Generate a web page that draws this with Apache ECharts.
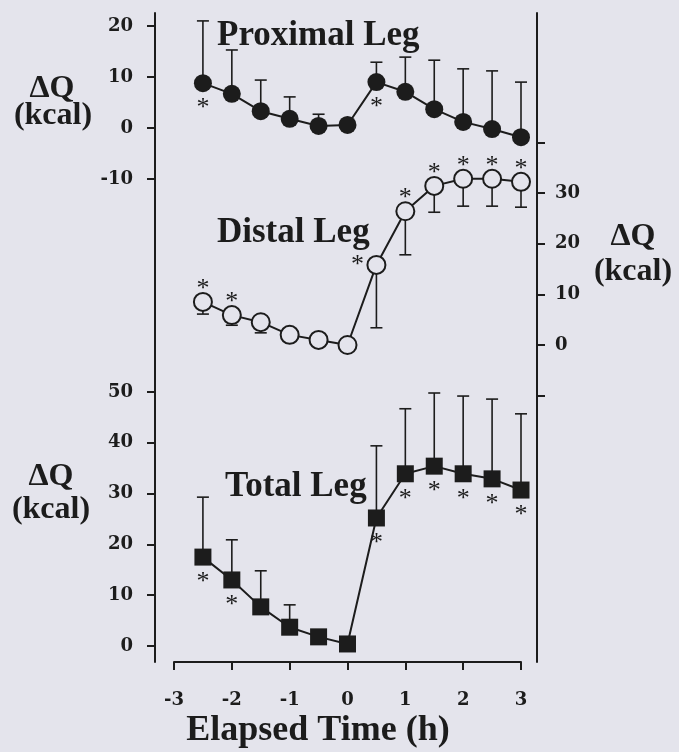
<!DOCTYPE html>
<html>
<head>
<meta charset="utf-8">
<script src="https://cdn.jsdelivr.net/npm/echarts@6/dist/echarts.min.js"></script>
<style>
  html, body { margin: 0; padding: 0; background: #e4e4ec; }
  .chart { width: 679px; height: 752px; }
</style>
</head>
<body>
<div class="chart"></div>
<script>
// time points (h)
var times = [-2.5, -2, -1.5, -1, -0.5, 0, 0.5, 1, 1.5, 2, 2.5, 3];
var xTicks = [-3, -2, -1, 0, 1, 2, 3];

// proximal leg, mean and SD (kcal)
var proxMean = [8.8, 6.7, 3.3, 1.8, 0.4, 0.6, 9.0, 7.1, 3.7, 1.2, -0.2, -1.8];
var proxSD = [12.2, 8.6, 6.1, 4.3, 2.3, 1.0, 3.9, 6.8, 9.6, 10.4, 11.4, 10.8];
var proxSig = [1, 0, 0, 0, 0, 0, 1, 0, 0, 0, 0, 0];

// distal leg
var distMean = [8.5, 5.9, 4.5, 2.0, 1.0, 0.0, 15.8, 26.4, 31.4, 32.8, 32.8, 32.2];
var distSD = [2.4, 2.0, 2.1, 0.8, 0.5, 0.3, 12.4, 8.6, 5.2, 5.4, 5.4, 5.0];
var distSig = [1, 1, 0, 0, 0, 0, 1, 1, 1, 1, 1, 1];

// total leg
var totMean = [17.5, 13.0, 7.7, 3.7, 1.8, 0.4, 25.2, 33.9, 35.4, 33.9, 32.9, 30.7];
var totSD = [11.8, 7.9, 7.1, 4.4, 1.0, 0.5, 14.2, 12.8, 14.4, 15.3, 15.7, 15.0];
var totSig = [1, 1, 0, 0, 0, 0, 1, 1, 1, 1, 1, 1];

// tick values on the axes
var proxTicks = [-10, 0, 10, 20];
var distTicks = [-10, 0, 10, 20, 30, 40];
var distLabels = [0, 10, 20, 30];
var totTicks = [0, 10, 20, 30, 40, 50];

(function () {
  var myChart = echarts.init(document.querySelector(".chart"));
  var ink = "#1c1c1c";
  var bg = "#e4e4ec";
  var serif = "Liberation Serif";
  var tickFont = "DejaVu Serif";

  function pairs(mean, sd) {
    return times.map(function (t, i) { return [t, mean[i], sd[i]]; });
  }
  function sigData(mean, sig) {
    var out = [];
    times.forEach(function (t, i) { if (sig[i]) out.push([t, mean[i]]); });
    return out;
  }

  // error bar: dir 1 = upwards, -1 = downwards
  function errorBar(dir) {
    return function (params, api) {
      var p0 = api.coord([api.value(0), api.value(1)]);
      var p1 = api.coord([api.value(0), api.value(1) + dir * api.value(2)]);
      var st = { stroke: ink, lineWidth: 1.6 };
      return {
        type: "group",
        children: [
          { type: "line", shape: { x1: p0[0], y1: p0[1], x2: p1[0], y2: p1[1] }, style: st },
          { type: "line", shape: { x1: p1[0] - 6, y1: p1[1], x2: p1[0] + 6, y2: p1[1] }, style: st }
        ]
      };
    };
  }

  // asterisk next to a point
  function star(where) {
    return function (params, api) {
      var x = api.value(0);
      var p = api.coord([x, api.value(1)]);
      var dx = 0, dy = 25;
      if (where === "top") { dy = -13; if (x === 0.5) { dx = -19; dy = 0; } }
      return {
        type: "text",
        style: {
          text: "*", x: p[0] + dx, y: p[1] + dy,
          fill: ink, font: "26px " + serif,
          align: "center", verticalAlign: "middle"
        }
      };
    };
  }

  function yAxisBase(pos, offset, margin) {
    return {
      type: "value",
      position: pos,
      offset: offset,
      splitLine: { show: false },
      axisLine: { show: true, onZero: false, lineStyle: { color: ink, width: 2 } },
      axisTick: { show: true, length: 8, lineStyle: { color: ink, width: 2 } },
      axisLabel: {
        margin: margin, color: ink,
        fontFamily: tickFont, fontWeight: "bold", fontSize: 18
      }
    };
  }

  var yProx = yAxisBase("left", 19, 22);
  yProx.gridIndex = 0; yProx.min = -104.7; yProx.max = 22.55;
  yProx.axisTick.customValues = proxTicks;
  yProx.axisLabel.customValues = proxTicks;

  var yDist = yAxisBase("right", 16, 18);
  yDist.gridIndex = 1; yDist.min = -62.56; yDist.max = 65.52;
  yDist.axisTick.customValues = distTicks;
  yDist.axisLabel.customValues = distLabels;

  var yTot = yAxisBase("left", 19, 22);
  yTot.gridIndex = 2; yTot.min = -3.15; yTot.max = 124.6;
  yTot.axisLine.show = false;
  yTot.axisTick.customValues = totTicks;
  yTot.axisLabel.customValues = totTicks;

  function hiddenX(idx) {
    return { type: "value", gridIndex: idx, min: -3, max: 3, show: false, axisLine: { onZero: false } };
  }

  function txt(text, x, y, size, align) {
    return {
      type: "text", x: x, y: y,
      style: {
        text: text, fill: ink, font: "bold " + size + "px " + serif,
        align: align || "left", verticalAlign: "middle"
      }
    };
  }

  var grid = { left: 174, right: 158, top: 13, bottom: 90 };

  var option = {
    backgroundColor: bg,
    animation: false,
    grid: [grid, grid, grid],
    xAxis: [
      hiddenX(0),
      hiddenX(1),
      {
        type: "value", gridIndex: 2, min: -3, max: 3, interval: 1,
        splitLine: { show: false },
        axisLine: { show: true, onZero: false, lineStyle: { color: ink, width: 2 } },
        axisTick: { show: true, length: 8, customValues: xTicks, lineStyle: { color: ink, width: 2 } },
        axisLabel: {
          customValues: xTicks, margin: 29, color: ink,
          fontFamily: tickFont, fontWeight: "bold", fontSize: 18
        }
      }
    ],
    yAxis: [yProx, yDist, yTot],
    graphic: [
      txt("Proximal Leg", 217, 36, 35),
      txt("Distal Leg", 217, 233, 35),
      txt("Total Leg", 225, 487, 35),
      txt("ΔQ", 52, 89, 32, "center"),
      txt("(kcal)", 53, 116, 32, "center"),
      txt("ΔQ", 633, 237, 32, "center"),
      txt("(kcal)", 633, 272, 32, "center"),
      txt("ΔQ", 51, 477, 32, "center"),
      txt("(kcal)", 51, 510, 32, "center"),
      txt("Elapsed Time (h)", 318, 731, 36, "center")
    ],
    series: [
      // error bars
      { type: "custom", xAxisIndex: 0, yAxisIndex: 0, z: 1, renderItem: errorBar(1), data: pairs(proxMean, proxSD) },
      { type: "custom", xAxisIndex: 1, yAxisIndex: 1, z: 1, renderItem: errorBar(-1), data: pairs(distMean, distSD) },
      { type: "custom", xAxisIndex: 2, yAxisIndex: 2, z: 1, renderItem: errorBar(1), data: pairs(totMean, totSD) },
      // lines and markers
      {
        name: "Proximal Leg", type: "line", xAxisIndex: 0, yAxisIndex: 0, z: 3,
        data: pairs(proxMean, proxSD),
        symbol: "circle", symbolSize: 18,
        itemStyle: { color: ink },
        lineStyle: { color: ink, width: 2 }
      },
      {
        name: "Distal Leg", type: "line", xAxisIndex: 1, yAxisIndex: 1, z: 3,
        data: pairs(distMean, distSD),
        symbol: "circle", symbolSize: 18,
        itemStyle: { color: bg, borderColor: ink, borderWidth: 2 },
        lineStyle: { color: ink, width: 2 }
      },
      {
        name: "Total Leg", type: "line", xAxisIndex: 2, yAxisIndex: 2, z: 3,
        data: pairs(totMean, totSD),
        symbol: "rect", symbolSize: 17,
        itemStyle: { color: ink },
        lineStyle: { color: ink, width: 2 }
      },
      // significance asterisks
      { type: "custom", xAxisIndex: 0, yAxisIndex: 0, z: 4, renderItem: star("bottom"), data: sigData(proxMean, proxSig) },
      { type: "custom", xAxisIndex: 1, yAxisIndex: 1, z: 4, renderItem: star("top"), data: sigData(distMean, distSig) },
      { type: "custom", xAxisIndex: 2, yAxisIndex: 2, z: 4, renderItem: star("bottom"), data: sigData(totMean, totSig) }
    ]
  };

  myChart.setOption(option);
  window.addEventListener("resize", function () {
    myChart.resize();
  });
})();
</script>
</body>
</html>
